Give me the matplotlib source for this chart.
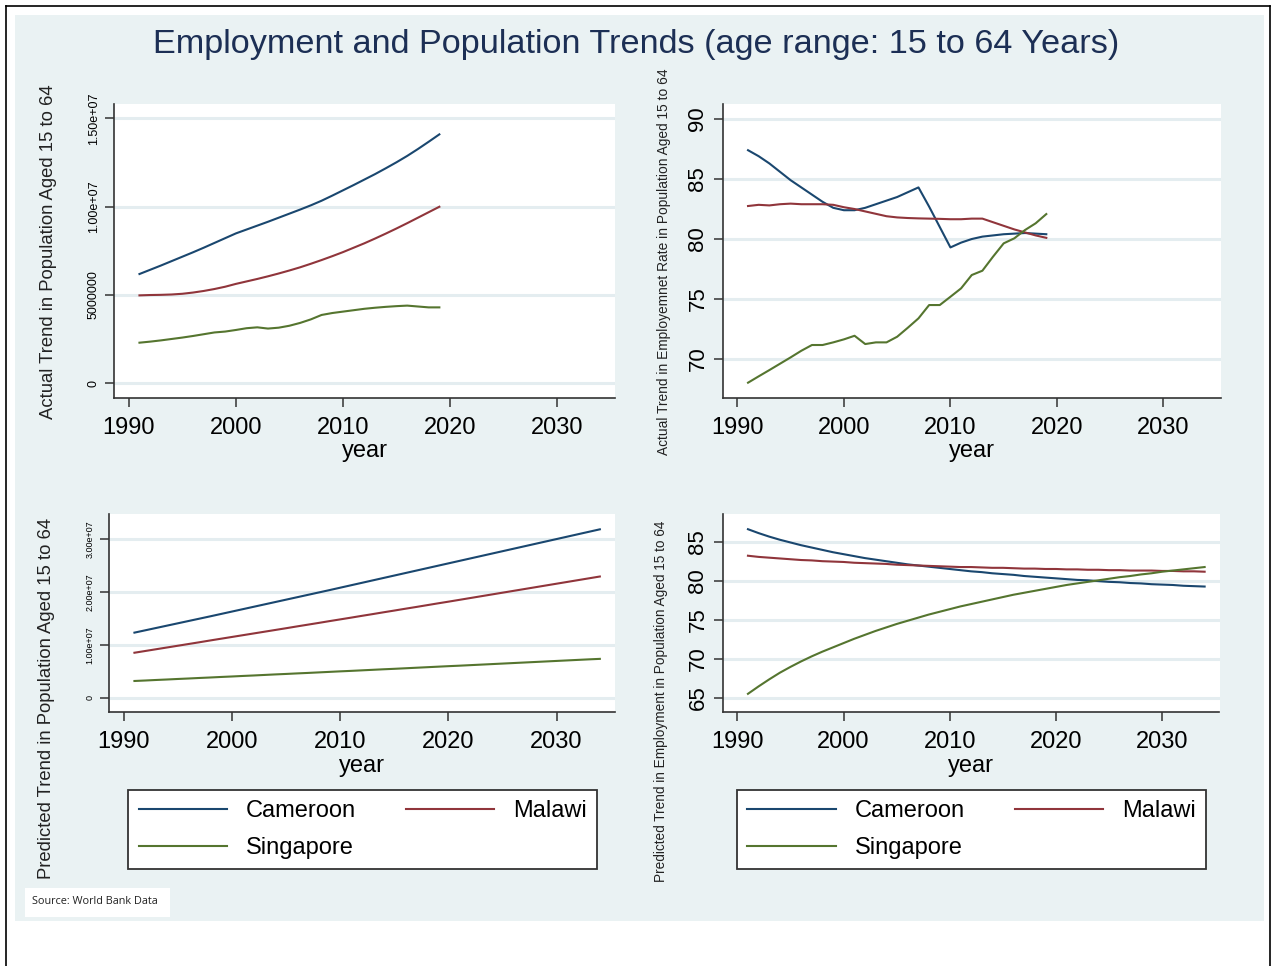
import matplotlib.pyplot as plt
from matplotlib.patches import Rectangle
from matplotlib.lines import Line2D

plt.rcParams['font.family'] = ['Liberation Sans', 'DejaVu Sans']

countries = ["Cameroon", "Malawi", "Singapore"]
colors = ["#1A476F", "#90353B", "#55752F"]

# actual series, 1991-2019
years_actual = list(range(1991, 2020))
pop_cameroon = [6.19, 6.43, 6.67, 6.92, 7.17, 7.42, 7.68, 7.95, 8.22, 8.49,
                8.71, 8.93, 9.15, 9.38, 9.61, 9.84, 10.08, 10.34, 10.63, 10.93,
                11.23, 11.54, 11.85, 12.18, 12.52, 12.88, 13.27, 13.68, 14.10]
pop_malawi = [4.98, 5.00, 5.01, 5.03, 5.07, 5.14, 5.23, 5.34, 5.47, 5.63,
              5.77, 5.91, 6.06, 6.22, 6.39, 6.57, 6.77, 6.98, 7.20, 7.43,
              7.68, 7.93, 8.20, 8.48, 8.77, 9.07, 9.38, 9.69, 10.00]
pop_singapore = [2.30, 2.36, 2.43, 2.51, 2.59, 2.68, 2.78, 2.88, 2.93, 3.02,
                 3.12, 3.17, 3.10, 3.15, 3.26, 3.42, 3.62, 3.87, 3.98, 4.06,
                 4.14, 4.22, 4.28, 4.33, 4.37, 4.40, 4.35, 4.30, 4.30]

emp_cameroon = [87.4, 86.9, 86.3, 85.6, 84.9, 84.3, 83.7, 83.1, 82.6, 82.4,
                82.4, 82.6, 82.9, 83.2, 83.5, 83.9, 84.3, 82.7, 81.0, 79.3,
                79.7, 80.0, 80.2, 80.3, 80.4, 80.45, 80.5, 80.45, 80.4]
emp_malawi = [82.75, 82.85, 82.8, 82.9, 82.95, 82.9, 82.9, 82.9, 82.85, 82.65,
              82.5, 82.3, 82.1, 81.9, 81.8, 81.75, 81.72, 81.7, 81.68, 81.65,
              81.65, 81.7, 81.7, 81.4, 81.1, 80.8, 80.55, 80.3, 80.1]
emp_singapore = [68.03, 68.56, 69.08, 69.61, 70.14, 70.69, 71.17, 71.17, 71.39, 71.64,
                 71.94, 71.25, 71.39, 71.39, 71.86, 72.61, 73.39, 74.5, 74.5, 75.19,
                 75.89, 77.0, 77.36, 78.53, 79.64, 80.06, 80.75, 81.31, 82.08]

# predicted series, 1991-2034
years_pred = list(range(1991, 2035))
pred_pop_cameroon = [12.30, 12.74, 13.18, 13.62, 14.06, 14.50, 14.94, 15.38, 15.83, 16.28,
                     16.73, 17.18, 17.63, 18.08, 18.53, 18.98, 19.43, 19.88, 20.33, 20.79,
                     21.25, 21.71, 22.17, 22.63, 23.09, 23.55, 24.01, 24.47, 24.93, 25.39,
                     25.85, 26.31, 26.77, 27.23, 27.69, 28.15, 28.61, 29.07, 29.53, 29.99,
                     30.45, 30.91, 31.37, 31.83]
pred_pop_malawi = [8.50, 8.83, 9.16, 9.49, 9.82, 10.15, 10.48, 10.82, 11.15, 11.48,
                   11.81, 12.14, 12.47, 12.80, 13.13, 13.47, 13.80, 14.13, 14.47, 14.80,
                   15.13, 15.47, 15.80, 16.14, 16.47, 16.81, 17.14, 17.48, 17.82, 18.15,
                   18.49, 18.83, 19.17, 19.51, 19.85, 20.19, 20.53, 20.87, 21.21, 21.55,
                   21.89, 22.23, 22.57, 22.91]
pred_pop_singapore = [3.16, 3.25, 3.35, 3.44, 3.54, 3.63, 3.73, 3.82, 3.92, 4.01,
                      4.11, 4.20, 4.30, 4.40, 4.49, 4.59, 4.68, 4.78, 4.88, 4.98,
                      5.07, 5.17, 5.27, 5.37, 5.46, 5.56, 5.66, 5.76, 5.86, 5.96,
                      6.05, 6.15, 6.25, 6.35, 6.45, 6.55, 6.65, 6.75, 6.85, 6.95,
                      7.05, 7.15, 7.25, 7.34]

pred_emp_cameroon = [86.6, 86.1, 85.65, 85.25, 84.9, 84.55, 84.25, 83.95, 83.65, 83.4,
                     83.15, 82.9, 82.7, 82.5, 82.3, 82.1, 81.95, 81.8, 81.65, 81.5,
                     81.35, 81.2, 81.1, 80.95, 80.85, 80.75, 80.6, 80.5, 80.4, 80.3,
                     80.2, 80.1, 80.05, 79.95, 79.85, 79.8, 79.7, 79.65, 79.55, 79.5,
                     79.45, 79.35, 79.3, 79.25]
pred_emp_malawi = [83.2, 83.05, 82.95, 82.85, 82.75, 82.65, 82.6, 82.5, 82.45, 82.4,
                   82.3, 82.25, 82.2, 82.15, 82.05, 82.0, 81.95, 81.9, 81.85, 81.8,
                   81.75, 81.75, 81.7, 81.65, 81.65, 81.6, 81.55, 81.55, 81.5, 81.5,
                   81.45, 81.45, 81.4, 81.4, 81.35, 81.35, 81.3, 81.3, 81.3, 81.25,
                   81.25, 81.2, 81.2, 81.15]
pred_emp_singapore = [65.5, 66.45, 67.35, 68.2, 68.95, 69.65, 70.3, 70.9, 71.45, 72.0,
                      72.55, 73.05, 73.55, 74.0, 74.45, 74.85, 75.25, 75.65, 76.0, 76.35,
                      76.7, 77.0, 77.3, 77.6, 77.9, 78.2, 78.45, 78.7, 78.95, 79.2,
                      79.45, 79.65, 79.85, 80.05, 80.25, 80.45, 80.6, 80.8, 80.95, 81.15,
                      81.3, 81.45, 81.6, 81.75]

year_ticks = [1990, 2000, 2010, 2020, 2030]
pop_ticks = [0, 5e6, 1e7, 1.5e7]
pop_ticklabels = ["0", "5000000", "1.00e+07", "1.50e+07"]
pred_pop_ticks = [0, 1e7, 2e7, 3e7]
pred_pop_ticklabels = ["0", "1.00e+07", "2.00e+07", "3.00e+07"]
emp_ticks = [70, 75, 80, 85, 90]
pred_emp_ticks = [65, 70, 75, 80, 85]

W, H = 1274, 966
BG = "#EAF2F3"
AX_COL = "#333333"

fig = plt.figure(figsize=(W / 100, H / 100), dpi=100)
fig.patch.set_facecolor("white")


def box(x0, y0, x1, y1):
    return [x0 / W, 1 - y1 / H, (x1 - x0) / W, (y1 - y0) / H]


# page frame and graph region
fig.add_artist(Rectangle((15 / W, 1 - 921 / H), 1249 / W, 906 / H, transform=fig.transFigure,
                         facecolor=BG, edgecolor="none", zorder=-2))
for xs, ys in [([6, 6], [6, 966]), ([6, 1270], [6, 6]), ([1270, 1270], [6, 966])]:
    fig.add_artist(Line2D([x / W for x in xs], [1 - y / H for y in ys], transform=fig.transFigure,
                          color="black", linewidth=1.2))

fig.text(636.5 / W, 1 - 45 / H, "Employment and Population Trends (age range: 15 to 64 Years)",
         ha="center", va="center", fontsize=24.7, color="#1C2F55")


def style_axes(ax, yticks, yticklabels, ytick_size, ylim, xlabel_y):
    ax.set_xlim(1988.65, 2035.4)
    ax.set_ylim(*ylim)
    for s in ["top", "right"]:
        ax.spines[s].set_visible(False)
    for s in ["left", "bottom"]:
        ax.spines[s].set_color(AX_COL)
        ax.spines[s].set_linewidth(1.2)
    ax.set_xticks(year_ticks)
    ax.set_yticks(yticks)
    ax.set_yticklabels(yticklabels)
    ax.grid(axis="y", color="#E4EDF0", linewidth=2.2)
    ax.set_axisbelow(True)
    ax.tick_params(axis="both", direction="out", length=6.5, width=1.1, color=AX_COL)
    ax.tick_params(axis="x", labelsize=17, pad=7)
    ax.tick_params(axis="y", labelsize=ytick_size, labelrotation=90, pad=4)
    for lab in ax.get_yticklabels():
        lab.set_va("center")
    ax.set_xlabel("year", fontsize=17, va="center")
    ax.xaxis.set_label_coords(0.5, xlabel_y)


# top left: actual population
ax1 = fig.add_axes(box(114.3, 104, 615, 398.3))
for vals, c in zip([pop_cameroon, pop_malawi, pop_singapore], colors):
    ax1.plot(years_actual, [v * 1e6 for v in vals], color=c, linewidth=1.5)
style_axes(ax1, pop_ticks, pop_ticklabels, 9, (-0.85e6, 15.82e6), -0.18)
fig.text(49 / W, 1 - 252 / H, "Actual Trend in Population Aged 15 to 64", rotation=90,
         ha="center", va="center", fontsize=13.3, color="#222222")

# top right: actual employment rate
ax2 = fig.add_axes(box(723, 104, 1221, 398.3))
for vals, c in zip([emp_cameroon, emp_malawi, emp_singapore], colors):
    ax2.plot(years_actual, vals, color=c, linewidth=1.5)
style_axes(ax2, emp_ticks, [str(t) for t in emp_ticks], 16, (66.73, 91.25), -0.18)
fig.text(664 / W, 1 - 262 / H, "Actual Trend in Employemnet Rate in Population Aged 15 to 64",
         rotation=90, ha="center", va="center", fontsize=9.9, color="#222222")

# bottom left: predicted population
ax3 = fig.add_axes(box(109, 514.3, 615, 712.3))
for vals, c in zip([pred_pop_cameroon, pred_pop_malawi, pred_pop_singapore], colors):
    ax3.plot(years_pred, [v * 1e6 for v in vals], color=c, linewidth=1.5)
style_axes(ax3, pred_pop_ticks, pred_pop_ticklabels, 6.5, (-0.276e7, 3.467e7), -0.272)
fig.text(47 / W, 1 - 698 / H, "Predicted Trend in Population Aged 15 to 64", rotation=90,
         ha="center", va="center", fontsize=13.3, color="#222222")

# bottom right: predicted employment rate
ax4 = fig.add_axes(box(723, 514.3, 1219.5, 712.3))
for vals, c in zip([pred_emp_cameroon, pred_emp_malawi, pred_emp_singapore], colors):
    ax4.plot(years_pred, vals, color=c, linewidth=1.5)
style_axes(ax4, pred_emp_ticks, [str(t) for t in pred_emp_ticks], 16, (63.13, 88.51), -0.272)
fig.text(661 / W, 1 - 701 / H, "Predicted Trend in Employment in Population Aged 15 to 64",
         rotation=90, ha="center", va="center", fontsize=9.8, color="#222222")

# legends under the bottom graphs, filled row by row
for ax, left in [(ax3, 128.3), (ax4, 737)]:
    lines = ax.get_lines()
    order = [0, 2, 1]
    leg = ax.legend([lines[i] for i in order], [countries[i] for i in order], ncol=2,
                    loc="upper left", bbox_to_anchor=(left / W, 1 - 790 / H),
                    bbox_transform=fig.transFigure, borderaxespad=0, fontsize=17,
                    handlelength=3.75, handletextpad=0.8, columnspacing=2.1,
                    labelspacing=0.62, borderpad=0.44,
                    fancybox=False, framealpha=1, facecolor="white", edgecolor=AX_COL)
    leg.get_frame().set_linewidth(1.3)

# note box
fig.add_artist(Rectangle((25 / W, 1 - 917 / H), 145 / W, 29 / H, transform=fig.transFigure,
                         facecolor="white", edgecolor="none"))
fig.text(32 / W, 1 - 902 / H, "Source: World Bank Data", ha="left", va="center",
         fontsize=7.8, family=["Open Sans", "DejaVu Sans"], color="#222222")

plt.savefig("out.png", dpi=100)
